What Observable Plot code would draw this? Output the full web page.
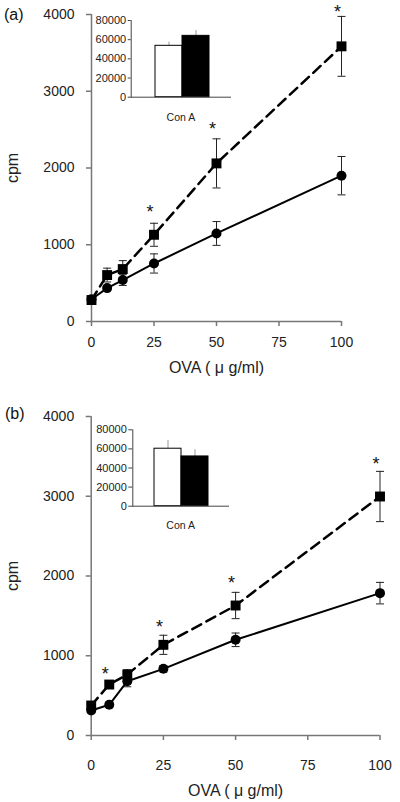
<!DOCTYPE html>
<html><head><meta charset="utf-8">
<script src="https://cdn.jsdelivr.net/npm/d3@7"></script>
<script src="https://cdn.jsdelivr.net/npm/@observablehq/plot@0.6"></script>
<style>
body{margin:0;background:#fff;}
#wrap{position:relative;width:400px;height:802px;font-family:"Liberation Sans",Arial,sans-serif;overflow:hidden;}
.plab{position:absolute;font-size:16px;color:#111;line-height:16px;}
</style></head><body><div id="wrap"></div>
<script>
// ---- data ----
const doses = [0, 6.25, 12.5, 25, 50, 100];
const xTicks = [0, 25, 50, 75, 100];
const yTicks = [0, 1000, 2000, 3000, 4000];
const insetTicks = [0, 20000, 40000, 60000, 80000];
const insetGroups = ["control", "treated"];

// panel (a)
const aControl = [290, 435, 540, 756, 1147, 1900];
const aControlErr = [30, 30, 70, 125, 155, 250];
const aTreated = [280, 605, 683, 1130, 2060, 3585];
const aTreatedErr = [30, 90, 110, 150, 320, 390];
const aStarDoses = [25, 50, 100];
const aStarY = [1478, 2551, 4086];
const aConA = [53600, 64000];
const aConAErr = [3800, 5600];

// panel (b)
const bControl = [313, 385, 681, 836, 1200, 1785];
const bControlErr = [30, 30, 70, 40, 85, 135];
const bTreated = [376, 639, 765, 1137, 1630, 2997];
const bTreatedErr = [40, 40, 60, 120, 165, 315];
const bStarDoses = [6.25, 25, 50, 100];
const bStarY = [815, 1408, 1965, 3457];
const bConA = [60200, 52100];
const bConAErr = [8700, 7000];

const FONT = "Liberation Sans, Arial, sans-serif";
const capSymbol = {draw(ctx, size) { const w = Math.sqrt(size / Math.PI); ctx.moveTo(-w, 0); ctx.lineTo(w, 0); }};

function mainPlot(o) {
  const ctrl = doses.map((d, i) => ({dose: d, v: o.control[i], e: o.controlErr[i]}));
  const trt = doses.map((d, i) => ({dose: d, v: o.treated[i], e: o.treatedErr[i]}));
  const stars = o.starX.map((d, i) => ({dose: d, v: o.starY[i]}));
  const errMarks = (data) => [
    Plot.ruleX(data, {x: "dose", y1: d => d.v - d.e, y2: d => d.v + d.e, stroke: "#222", strokeWidth: 1}),
    Plot.dot(data, {x: "dose", y: d => d.v + d.e, symbol: capSymbol, r: 4, stroke: "#222", strokeWidth: 1, fill: "none"}),
    Plot.dot(data, {x: "dose", y: d => d.v - d.e, symbol: capSymbol, r: 4, stroke: "#222", strokeWidth: 1, fill: "none"})
  ];
  return Plot.plot({
    width: o.width, height: o.height,
    marginTop: o.mt, marginRight: o.mr, marginBottom: o.mb, marginLeft: o.ml,
    style: {fontFamily: FONT, background: "transparent", overflow: "visible"},
    x: {domain: [0, 100]},
    y: {domain: [0, 4000]},
    marks: [
      Plot.ruleX([0], {stroke: "#777", strokeWidth: 1.5}),
      Plot.ruleY([0], {stroke: "#777", strokeWidth: 1.5}),
      Plot.axisX({ticks: xTicks, tickSize: 5, tickPadding: o.xPad, fontSize: 14, fill: "#222", stroke: "#777", strokeWidth: 1.5, label: null}),
      Plot.axisX({ticks: [], tickSize: 0, fontSize: 16, fill: "#222", label: "OVA ( μ g/ml)", labelAnchor: "center", labelArrow: "none", labelOffset: o.xLabOff}),
      Plot.axisY({ticks: yTicks, tickFormat: d => String(d), tickSize: 5, tickPadding: 12, fontSize: 14, fill: "#222", stroke: "#777", strokeWidth: 1.5, label: null}),
      Plot.axisY({ticks: [], tickSize: 0, fontSize: 16, fill: "#222", label: "cpm", labelAnchor: "center", labelArrow: "none", labelOffset: o.yLabOff}),
      ...errMarks(ctrl),
      ...errMarks(trt),
      Plot.line(trt, {x: "dose", y: "v", stroke: "#000", strokeWidth: 2.5, strokeDasharray: "10,6"}),
      Plot.line(ctrl, {x: "dose", y: "v", stroke: "#000", strokeWidth: 2}),
      Plot.dot(ctrl, {x: "dose", y: "v", r: 5, fill: "#000", symbol: "circle"}),
      Plot.dot(trt, {x: "dose", y: "v", r: 5.6, fill: "#000", symbol: "square"}),
      Plot.text(stars, {x: "dose", y: "v", text: () => "*", fontSize: 18, fill: "#111", dx: -4, dy: 4})
    ]
  });
}

function insetPlot(o) {
  const data = insetGroups.map((g, i) => ({g, v: o.vals[i], e: o.errs[i]}));
  return Plot.plot({
    width: o.width, height: o.height,
    marginTop: o.mt, marginRight: o.mr, marginBottom: o.mb, marginLeft: o.ml,
    style: {fontFamily: FONT, background: "transparent", overflow: "visible"},
    x: {type: "band", domain: insetGroups, range: o.xr, padding: 0},
    y: {domain: [0, 80000]},
    marks: [
      Plot.ruleX(data, {x: "g", y1: "v", y2: d => d.v + d.e, stroke: "#999", strokeWidth: 1}),
      Plot.barY(data, {x: "g", y: "v", fill: (d, i) => i ? "#000" : "#fff", stroke: "#000", strokeWidth: 1}),
      Plot.frame({anchor: "left", stroke: "#444"}),
      Plot.frame({anchor: "bottom", stroke: "#444"}),
      Plot.axisY({ticks: insetTicks, tickFormat: d => String(d), tickSize: o.tickSize, tickPadding: 2, fontSize: 11, fill: "#222", stroke: "#444", label: null}),
      Plot.axisX({ticks: [], tickSize: 0, fontSize: 10.5, fill: "#222", label: "Con A", labelAnchor: "center", labelArrow: "none", labelOffset: o.labOff})
    ]
  });
}

const wrap = document.getElementById("wrap");
function place(el, left, top) { el.style.position = "absolute"; el.style.left = left + "px"; el.style.top = top + "px"; wrap.appendChild(el); }

place(mainPlot({control: aControl, controlErr: aControlErr, treated: aTreated, treatedErr: aTreatedErr,
  starX: aStarDoses, starY: aStarY, width: 400, height: 380, mt: 14, mr: 59, mb: 59, ml: 91,
  xPad: 11, xLabOff: 51, yLabOff: 85}), 0, 0);
place(insetPlot({vals: aConA, errs: aConAErr, width: 190, height: 125, mt: 20, mr: 20, mb: 28.3, ml: 70.7,
  xr: [94, 149.3], tickSize: 3, labOff: 24}), 60, 0);

place(mainPlot({control: bControl, controlErr: bControlErr, treated: bTreated, treatedErr: bTreatedErr,
  starX: bStarDoses, starY: bStarY, width: 400, height: 402, mt: 16, mr: 20.5, mb: 67, ml: 90.7,
  xPad: 20, xLabOff: 60, yLabOff: 85}), 0, 400);
place(insetPlot({vals: bConA, errs: bConAErr, width: 190, height: 135, mt: 29.3, mr: 22, mb: 29.3, ml: 72.3,
  xr: [94, 148.3], tickSize: 4, labOff: 23}), 60, 400);

const la = document.createElement("div"); la.className = "plab"; la.textContent = "(a)"; place(la, 4, 7);
const lb = document.createElement("div"); lb.className = "plab"; lb.textContent = "(b)"; place(lb, 5, 406);
</script></body></html>
